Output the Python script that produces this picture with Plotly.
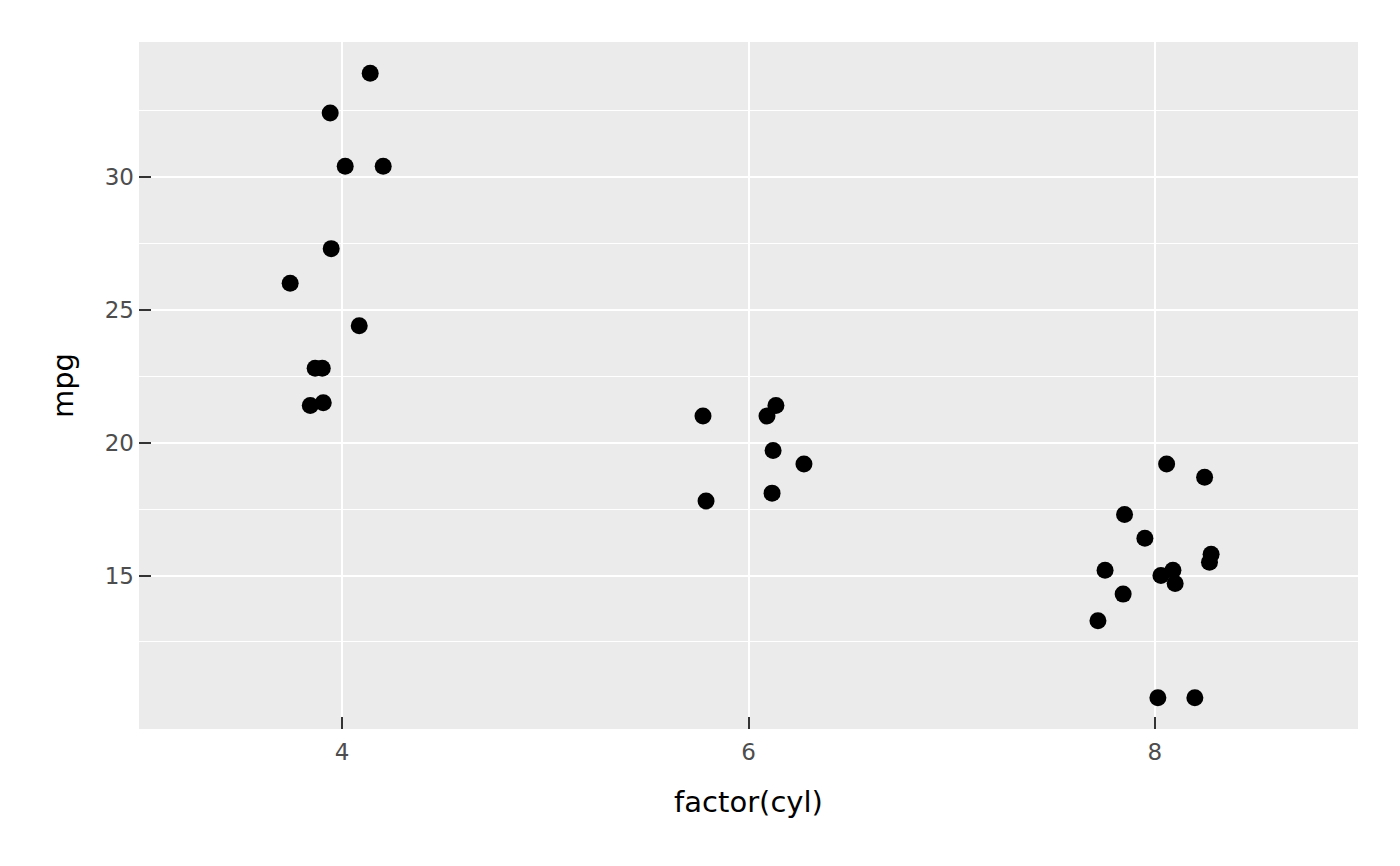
import plotly.graph_objects as go

# jittered cyl positions and mpg values
cyl4_x = [4.138, 3.941, 4.015, 4.202, 3.946, 3.744, 4.084, 3.867, 3.902, 3.843, 3.907]
cyl4_mpg = [33.9, 32.4, 30.4, 30.4, 27.3, 26.0, 24.4, 22.8, 22.8, 21.4, 21.5]

cyl6_x = [5.776, 6.091, 6.135, 6.121, 6.273, 6.116, 5.791]
cyl6_mpg = [21.0, 21.0, 21.4, 19.7, 19.2, 18.1, 17.8]

cyl8_x = [8.058, 8.245, 7.851, 7.951, 8.277, 8.269, 7.755, 8.089, 8.030, 8.100, 7.844, 7.720, 8.015, 8.197]
cyl8_mpg = [19.2, 18.7, 17.3, 16.4, 15.8, 15.5, 15.2, 15.2, 15.0, 14.7, 14.3, 13.3, 10.4, 10.4]

x_ticks = [4, 6, 8]
y_ticks = [15, 20, 25, 30]
y_minor = [12.5, 17.5, 22.5, 27.5, 32.5]

xs = cyl4_x + cyl6_x + cyl8_x
ys = cyl4_mpg + cyl6_mpg + cyl8_mpg

fig = go.Figure()
fig.add_trace(go.Scatter(
    x=xs, y=ys, mode="markers",
    marker=dict(color="black", size=17, line=dict(width=0)),
    showlegend=False,
))

# page body adds an 8px offset, so margins are shifted by that much
fig.update_layout(
    width=1400, height=866,
    margin=dict(l=131, r=50, t=34, b=145),
    paper_bgcolor="white",
    plot_bgcolor="#EBEBEB",
    font=dict(family="DejaVu Sans", color="black"),
)

fig.update_xaxes(
    range=[3, 9], tickvals=x_ticks, ticktext=[str(v) for v in x_ticks],
    showgrid=True, gridcolor="white", gridwidth=2, zeroline=False,
    ticks="inside", ticklen=12, tickwidth=2, tickcolor="#333333",
    tickfont=dict(size=23, color="#4D4D4D"),
    ticklabelstandoff=7,
    title=dict(text="factor(cyl)", font=dict(size=29, color="black"), standoff=27),
    showline=False,
)
fig.update_yaxes(
    range=[9.225, 35.075], tickvals=y_ticks, ticktext=[str(v) for v in y_ticks],
    showgrid=True, gridcolor="white", gridwidth=2, zeroline=False,
    ticks="inside", ticklen=12, tickwidth=2, tickcolor="#333333",
    tickfont=dict(size=23, color="#4D4D4D"),
    ticklabelstandoff=4,
    title=dict(text="mpg", font=dict(size=29, color="black"), standoff=22),
    minor=dict(tickvals=y_minor, showgrid=True, gridcolor="white", gridwidth=1, ticks=""),
    showline=False,
)

fig.write_html("out.html")
